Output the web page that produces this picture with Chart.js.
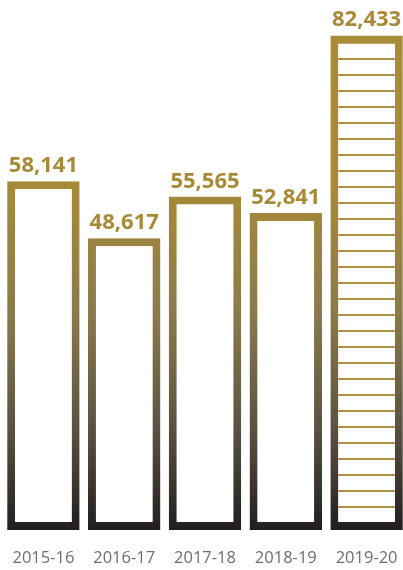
<!DOCTYPE html>
<html>
<head>
<meta charset="utf-8">
<script src="https://cdn.jsdelivr.net/npm/chart.js@4/dist/chart.umd.min.js"></script>
<style>
  html, body { margin: 0; padding: 0; background: #fff; overflow: hidden; }
  canvas { display: block; }
</style>
</head>
<body>
<canvas id="enrolChart" width="408" height="570"></canvas>
<script>
const years = ["2015-16", "2016-17", "2017-18", "2018-19", "2019-20"];
const totals = [58141, 48617, 55565, 52841, 82433];

const GOLD = "#a88a36";

// horizontal rule fill for the latest year
function stripePattern() {
    const c = document.createElement("canvas");
    c.width = 16;
    c.height = 16;
    const g = c.getContext("2d");
    g.fillStyle = "#ffffff";
    g.fillRect(0, 0, 16, 16);
    g.fillStyle = "#ad9143";
    g.fillRect(0, 10, 16, 2);
    return g.createPattern(c, "repeat");
}

function borderGradient(context) {
    const chart = context.chart;
    const g = chart.ctx.createLinearGradient(0, 30, 0, 530);
    g.addColorStop(0, "#a98c38");
    g.addColorStop(0.32, "#a68a38");
    g.addColorStop(0.56, "#8b7b4c");
    g.addColorStop(0.8, "#595242");
    g.addColorStop(1, "#221e1f");
    return g;
}

const valueLabels = {
    id: "valueLabels",
    afterDatasetsDraw(chart) {
        const ctx = chart.ctx;
        const meta = chart.getDatasetMeta(0);
        ctx.save();
        ctx.font = "bold 22px 'Open Sans'";
        ctx.fillStyle = GOLD;
        ctx.textAlign = "center";
        ctx.textBaseline = "alphabetic";
        meta.data.forEach((bar, i) => {
            ctx.fillText(totals[i].toLocaleString("en-US"), bar.x, bar.y - 9);
        });
        ctx.restore();
    }
};

const stripes = stripePattern();

new Chart(document.getElementById("enrolChart"), {
    type: "bar",
    data: {
        labels: years,
        datasets: [{
            data: totals,
            backgroundColor: totals.map((v, i) => i === totals.length - 1 ? stripes : "#ffffff"),
            borderColor: borderGradient,
            borderWidth: 8,
            borderSkipped: false,
            barPercentage: 0.897,
            categoryPercentage: 1
        }]
    },
    options: {
        responsive: false,
        animation: false,
        layout: { padding: { top: 20, left: 3, right: 1, bottom: 2 } },
        plugins: {
            legend: { display: false },
            tooltip: { enabled: false }
        },
        scales: {
            x: {
                grid: { display: false, drawTicks: false },
                border: { display: false },
                ticks: {
                    color: "#6e6e6e",
                    padding: 18,
                    maxRotation: 0,
                    font: { family: "'Open Sans'", size: 16.5, lineHeight: 1.25 }
                },
                afterFit(scale) {
                    // keep the bars edge to edge and the labels in a fixed strip
                    scale.height = 38;
                    scale.paddingLeft = 0;
                    scale.paddingRight = 0;
                }
            },
            y: {
                display: false,
                min: 0,
                max: 85000
            }
        }
    },
    plugins: [valueLabels]
});
</script>
</body>
</html>
